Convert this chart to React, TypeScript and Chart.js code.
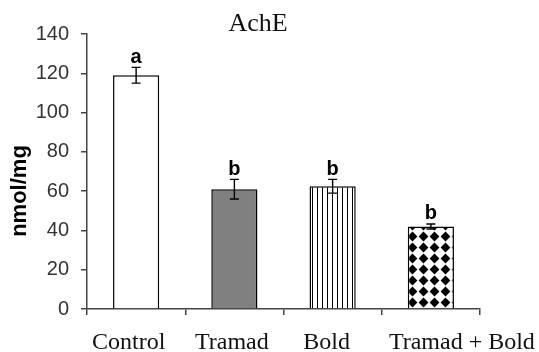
import React, { useEffect, useRef } from "react";
import { Chart, registerables } from "chart.js";

Chart.register(...registerables);

// ---- data ----
const categories = ["Control", "Tramad", "Bold", "Tramad + Bold"];
const values = [119, 61, 62.5, 42];
const errors = [4, 5, 3.5, 1.3];
const letters = ["a", "b", "b", "b"];
const yTickValues = [0, 20, 40, 60, 80, 100, 120, 140];
const titleText = "AchE";
const yAxisTitle = "nmol/mg";

// ---- style ----
const SERIF = "'Liberation Serif', 'Times New Roman', serif";
const SANS = "'Liberation Sans', Arial, sans-serif";
const AXIS_COLOR = "#444";
const labelShift = [-7.5, -2.5, -6, 31];

function stripePattern(): CanvasPattern | string {
  const c = document.createElement("canvas");
  c.width = 5;
  c.height = 4;
  const g = c.getContext("2d");
  if (!g) return "#fff";
  g.fillStyle = "#fff";
  g.fillRect(0, 0, 5, 4);
  g.fillStyle = "#000";
  g.fillRect(2, 0, 1, 4);
  return g.createPattern(c, "repeat") || "#fff";
}

function diamondPattern(): CanvasPattern | string {
  const w = 11;
  const h = 11;
  const c = document.createElement("canvas");
  c.width = w;
  c.height = h;
  const g = c.getContext("2d");
  if (!g) return "#fff";
  g.fillStyle = "#fff";
  g.fillRect(0, 0, w, h);
  g.fillStyle = "#000";
  g.beginPath();
  g.moveTo(w / 2, 0.6);
  g.lineTo(w - 0.6, h / 2);
  g.lineTo(w / 2, h - 0.6);
  g.lineTo(0.6, h / 2);
  g.closePath();
  g.fill();
  return g.createPattern(c, "repeat") || "#fff";
}

const decorPlugin = {
  id: "decor",
  afterDatasetsDraw(chart: any) {
    const ctx = chart.ctx as CanvasRenderingContext2D;
    const meta = chart.getDatasetMeta(0);
    const y = chart.scales.y;
    ctx.save();
    meta.data.forEach((bar: any, i: number) => {
      const x = bar.x;
      const top = y.getPixelForValue(values[i] + errors[i]);
      const bot = y.getPixelForValue(values[i] - errors[i]);
      ctx.strokeStyle = "#000";
      ctx.lineWidth = 1.4;
      ctx.beginPath();
      ctx.moveTo(x, top);
      ctx.lineTo(x, bot);
      ctx.moveTo(x - 4.5, top);
      ctx.lineTo(x + 4.5, top);
      ctx.moveTo(x - 4.5, bot);
      ctx.lineTo(x + 4.5, bot);
      ctx.stroke();
      ctx.fillStyle = "#000";
      ctx.font = `bold 20px ${SANS}`;
      ctx.textAlign = "center";
      ctx.textBaseline = "alphabetic";
      ctx.fillText(letters[i], x, top - 4.5);
    });
    ctx.restore();
  },
  afterDraw(chart: any) {
    const ctx = chart.ctx as CanvasRenderingContext2D;
    const xs = chart.scales.x;
    ctx.save();
    // x labels
    ctx.fillStyle = "#111";
    ctx.font = `24px ${SERIF}`;
    ctx.textAlign = "center";
    ctx.textBaseline = "alphabetic";
    categories.forEach((c, i) => {
      const x = xs.getPixelForValue(i) + labelShift[i];
      ctx.fillText(c, x, 349);
    });
    // title
    ctx.font = `26px ${SERIF}`;
    ctx.fillStyle = "#111";
    ctx.fillText(titleText, 258, 31);
    // y-axis title
    ctx.translate(26, 191);
    ctx.rotate(-Math.PI / 2);
    ctx.font = `bold 22px ${SANS}`;
    ctx.fillStyle = "#000";
    ctx.fillText(yAxisTitle, 0, 0);
    ctx.restore();
  },
};

export default function App() {
  const ref = useRef<HTMLCanvasElement | null>(null);

  useEffect(() => {
    document.body.style.margin = "0";
    const canvas = ref.current;
    if (!canvas) return;
    const chart = new Chart(canvas, {
      type: "bar",
      data: {
        labels: categories,
        datasets: [
          {
            data: values,
            backgroundColor: ["#ffffff", "#808080", stripePattern(), diamondPattern()] as any,
            borderColor: "#000",
            borderWidth: 1.5,
            borderSkipped: "bottom",
            barPercentage: 0.47,
            categoryPercentage: 1,
          },
        ],
      },
      options: {
        responsive: false,
        animation: false,
        devicePixelRatio: 1,
        layout: { padding: { left: 0, right: 59, top: 34, bottom: 0 } },
        plugins: {
          legend: { display: false },
          title: { display: false },
          tooltip: { enabled: false },
        },
        scales: {
          x: {
            type: "category",
            offset: true,
            grid: {
              offset: true,
              drawOnChartArea: false,
              drawTicks: true,
              tickLength: 6,
              color: AXIS_COLOR,
              lineWidth: 1.5,
            },
            border: { display: true, color: AXIS_COLOR, width: 1.5 },
            ticks: { display: false },
            afterFit(scale: any) {
              scale.height = 43;
            },
          },
          y: {
            min: 0,
            max: 140,
            afterBuildTicks(scale: any) {
              scale.ticks = yTickValues.map((v) => ({ value: v }));
            },
            grid: {
              drawOnChartArea: false,
              drawTicks: true,
              tickLength: 6,
              color: AXIS_COLOR,
              lineWidth: 1.5,
            },
            border: { display: true, color: AXIS_COLOR, width: 1.5 },
            ticks: {
              font: { family: SANS, size: 20 },
              color: "#333",
              padding: 12,
            },
            afterFit(scale: any) {
              scale.width = 87;
            },
          },
        },
      },
      plugins: [decorPlugin],
    });
    return () => chart.destroy();
  }, []);

  return (
    <div style={{ width: 539, height: 352, background: "#fff" }}>
      <canvas ref={ref} width={539} height={352} style={{ width: 539, height: 352, display: "block" }} />
    </div>
  );
}
